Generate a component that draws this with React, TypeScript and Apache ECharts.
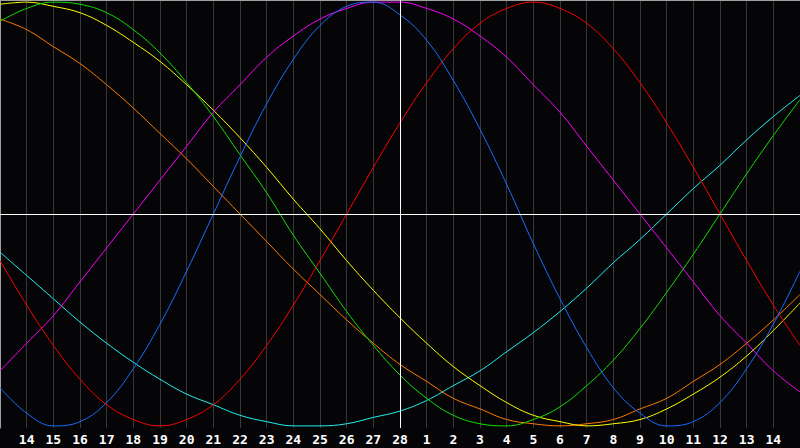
import { useEffect, useRef } from "react";
import * as echarts from "echarts";

// day labels, from the 13th to the 15th of next month
const days = [
  "13", "14", "15", "16", "17", "18", "19", "20", "21", "22", "23", "24", "25", "26", "27", "28",
  "1", "2", "3", "4", "5", "6", "7", "8", "9", "10", "11", "12", "13", "14", "15",
];
const today = "28";

const blue = [
  -0.82, -0.94, -1.0, -0.98, -0.89, -0.73, -0.52, -0.27, 0, 0.27, 0.52, 0.73, 0.89, 0.98, 1.0, 0.94,
  0.82, 0.63, 0.4, 0.14, -0.14, -0.4, -0.63, -0.82, -0.94, -1.0, -0.98, -0.89, -0.73, -0.52, -0.27,
];
const red = [
  -0.22, -0.43, -0.62, -0.78, -0.9, -0.97, -1.0, -0.97, -0.9, -0.78, -0.62, -0.43, -0.22, 0, 0.22, 0.43,
  0.62, 0.78, 0.9, 0.97, 1.0, 0.97, 0.9, 0.78, 0.62, 0.43, 0.22, 0, -0.22, -0.43, -0.62,
];
const green = [
  0.91, 0.97, 1.0, 0.99, 0.95, 0.87, 0.76, 0.62, 0.46, 0.28, 0.1, -0.1, -0.28, -0.46, -0.62, -0.76,
  -0.87, -0.95, -0.99, -1.0, -0.97, -0.91, -0.81, -0.69, -0.54, -0.37, -0.19, 0, 0.19, 0.37, 0.54,
];
const magenta = [
  -0.74, -0.61, -0.48, -0.32, -0.16, 0, 0.16, 0.32, 0.48, 0.61, 0.74, 0.84, 0.92, 0.97, 1.0, 1.0,
  0.97, 0.92, 0.84, 0.74, 0.61, 0.48, 0.32, 0.16, 0, -0.16, -0.32, -0.48, -0.61, -0.74, -0.84,
];
const cyan = [
  -0.18, -0.29, -0.4, -0.51, -0.61, -0.7, -0.78, -0.85, -0.9, -0.95, -0.98, -1.0, -1.0, -0.99, -0.96, -0.93,
  -0.88, -0.81, -0.74, -0.65, -0.56, -0.46, -0.35, -0.23, -0.12, 0, 0.12, 0.23, 0.35, 0.46, 0.56,
];
const yellow = [
  0.99, 1.0, 0.98, 0.95, 0.89, 0.81, 0.72, 0.61, 0.49, 0.36, 0.22, 0.07, -0.07, -0.22, -0.36, -0.49,
  -0.61, -0.72, -0.81, -0.89, -0.95, -0.98, -1.0, -0.99, -0.97, -0.92, -0.85, -0.77, -0.67, -0.55, -0.42,
];
const orange = [
  0.92, 0.87, 0.79, 0.71, 0.61, 0.5, 0.38, 0.26, 0.13, 0, -0.13, -0.26, -0.38, -0.5, -0.61, -0.71,
  -0.79, -0.87, -0.92, -0.97, -0.99, -1.0, -0.99, -0.97, -0.92, -0.87, -0.79, -0.71, -0.61, -0.5, -0.38,
];

const curves = [
  { name: "cyan", color: "#22f0f0", data: cyan },
  { name: "orange", color: "#ff7a00", data: orange },
  { name: "yellow", color: "#ffff00", data: yellow },
  { name: "magenta", color: "#ff00ff", data: magenta },
  { name: "green", color: "#11e000", data: green },
  { name: "red", color: "#ff0000", data: red },
  { name: "blue", color: "#1a6cff", data: blue },
];

const App = () => {
  const chartRef = useRef(null);

  useEffect(() => {
    const chart = echarts.init(chartRef.current, null, { renderer: "svg" });

    const option: any = {
      animation: false,
      backgroundColor: "#050508",
      grid: { left: 0, right: 0, top: 0, bottom: 20 },
      xAxis: [
        {
          type: "category",
          boundaryGap: false,
          data: days,
          axisLine: { lineStyle: { color: "#a0a0a0", width: 1 } },
          axisTick: { show: false },
          axisLabel: {
            interval: (i) => i > 0 && i < days.length - 1,
            color: "#ffffff",
            fontFamily: "DejaVu Sans Mono",
            fontWeight: "bold",
            fontSize: 13,
            margin: 5,
          },
          splitLine: { show: true, interval: 0, lineStyle: { color: "#383838", width: 1 } },
        },
        {
          type: "category",
          boundaryGap: false,
          data: days,
          position: "top",
          axisLine: { lineStyle: { color: "#a0a0a0", width: 1 } },
          axisTick: { show: false },
          axisLabel: { show: false },
          splitLine: { show: false },
        },
      ],
      yAxis: {
        type: "value",
        min: -1.01,
        max: 1.01,
        axisLine: { show: true, lineStyle: { color: "#a0a0a0", width: 1 } },
        axisTick: { show: false },
        axisLabel: { show: false },
        splitLine: { show: false },
      },
      series: [
        {
          name: "markers",
          type: "line",
          data: [],
          markLine: {
            silent: true,
            symbol: "none",
            label: { show: false },
            lineStyle: { color: "#ffffff", width: 1, type: "solid" },
            data: [{ yAxis: 0 }, { xAxis: today }],
          },
        },
        ...curves.map((c) => ({
          name: c.name,
          type: "line",
          data: c.data,
          smooth: 0.4,
          symbol: "none",
          lineStyle: { color: c.color, width: 1 },
          itemStyle: { color: c.color },
        })),
      ],
    };

    chart.setOption(option);

    return () => {
      chart.dispose();
    };
  }, []);

  return (
    <div
      ref={chartRef}
      style={{ position: "fixed", left: 0, top: 0, width: "800px", height: "448px" }}
    />
  );
};

export default App;
